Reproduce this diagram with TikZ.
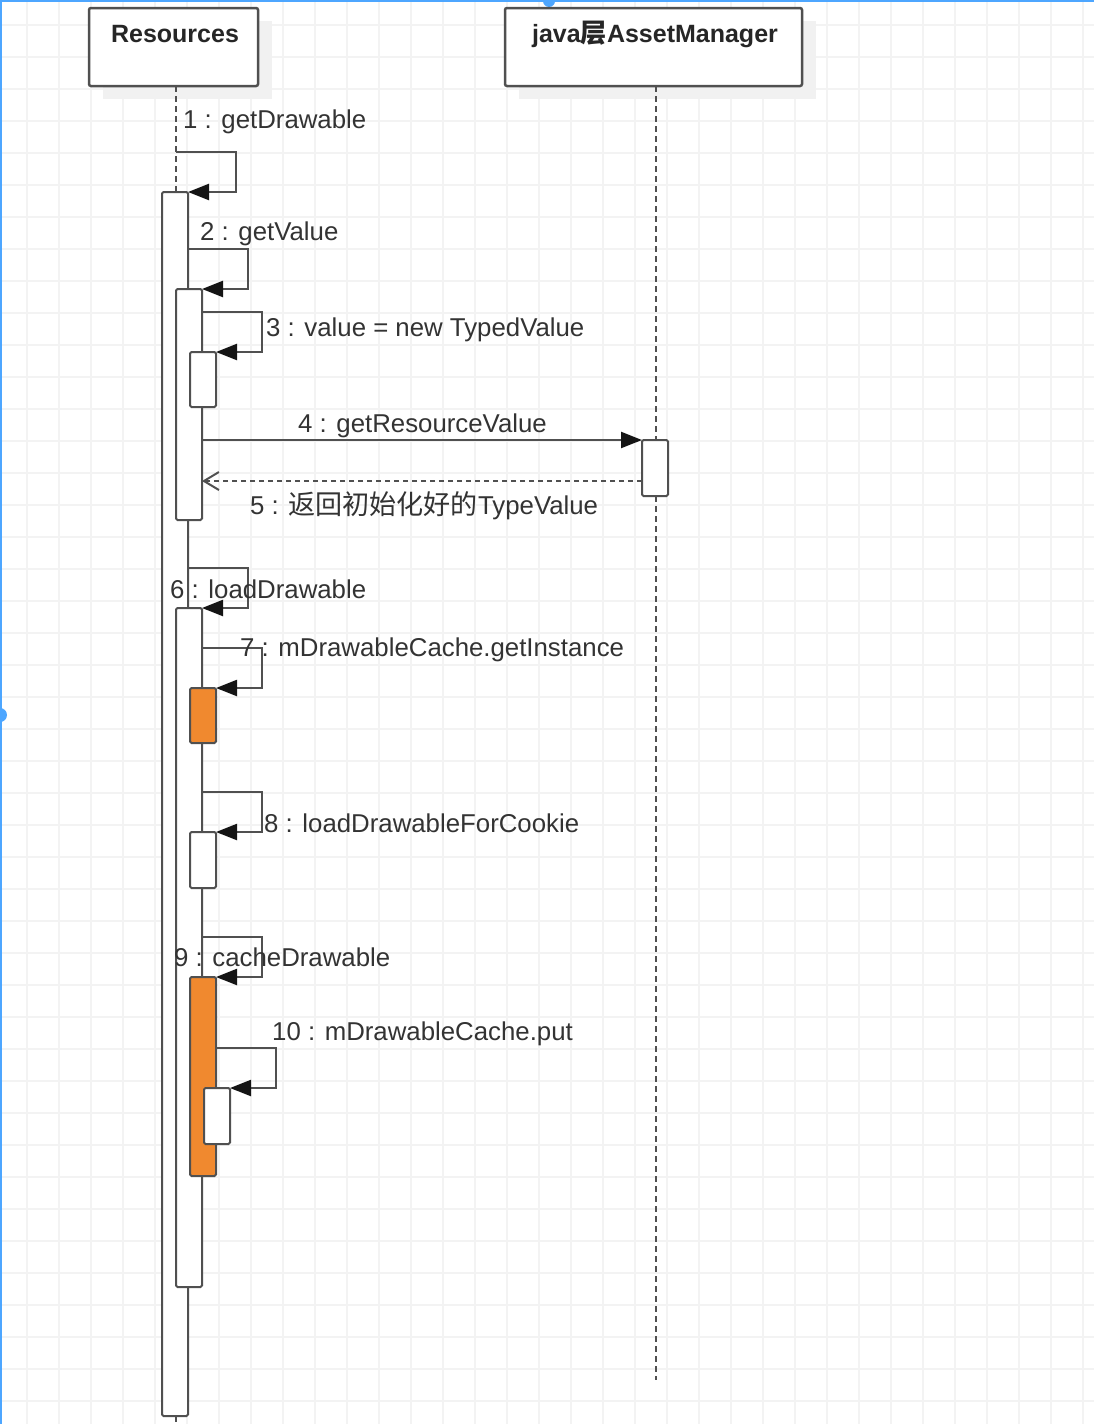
\documentclass[tikz,border=0pt]{standalone}
\usepackage{fontspec}
\setmainfont{Liberation Sans}
\newfontfamily\cjk[Scale=1.05]{Noto Sans CJK SC}
\usetikzlibrary{arrows.meta,calc}
\definecolor{ln}{HTML}{505050}
\definecolor{gridc}{HTML}{F3F3F3}
\definecolor{orng}{HTML}{F0892F}
\definecolor{selblue}{HTML}{4DA6FF}
\definecolor{txt}{HTML}{333333}
\definecolor{shad}{HTML}{F1F1F1}
\begin{document}
\begin{tikzpicture}[x=1pt,y=-1pt,
  font=\fontsize{25.8}{30}\selectfont,
  head/.style={draw=ln, line width=2.5pt, fill=white, rounded corners=2pt, minimum height=78pt, anchor=north west, inner sep=0pt, outer sep=0pt},
  act/.style={draw=ln, line width=2pt, fill=white, rounded corners=1.5pt, minimum width=26pt, anchor=north west, inner sep=0pt, outer sep=0pt},
  hot/.style={act, fill=orng},
  life/.style={draw=ln, line width=2pt, dash pattern=on 6pt off 4pt},
  msg/.style={draw=ln, line width=2.2pt, -{Triangle[length=21pt,width=16pt,color=black!92]}},
  ret/.style={draw=ln, line width=2pt, dash pattern=on 5pt off 4pt, -{Straight Barb[length=15pt,width=18pt]}},
  lbl/.style={text=txt, anchor=base west, inner sep=0pt},
  ttl/.style={text=black!85, anchor=base, inner sep=0pt, font=\fontsize{25}{30}\selectfont\bfseries},
]
\useasboundingbox (0,0) rectangle (1094,1424);
\fill[white] (0,0) rectangle (1094,1424);
% grid
\foreach \i in {0,...,33} \draw[gridc, line width=1.5pt] ({27+32*\i},0) -- ({27+32*\i},1424);
\foreach \j in {0,...,43} \draw[gridc, line width=1.5pt] (0,{25+32*\j}) -- (1094,{25+32*\j});
% selection frame
\draw[selblue, line width=2pt] (0,1) -- (1094,1);
\draw[selblue, line width=1.5pt] (1,0) -- (1,1424);
\fill[selblue] (549,1) circle (6);
\fill[selblue] (0,715) circle (7);

% headers with shadows
\fill[shad] (103,21) rectangle (272,99);
\fill[shad] (519,21) rectangle (816,99);
\node[head, minimum width=169pt] (res) at (89,8) {};
\node[head, minimum width=297pt] (amh) at (505,8) {};
\node[ttl] (rest) at (175,42) {Resources};
\node[ttl] (amt) at (655,42) {java{\cjk\bfseries 层}AssetManager};

% lifelines
\draw[life] (176,86) -- (176,192);
\draw[life] (176,1416) -- (176,1424);
\draw[life] (656,86) -- (656,440);
\draw[life] (656,496) -- (656,1380);

\node[act, minimum height=1224pt] (A1) at (162,192) {};
\node[act, minimum height=231pt] (A2) at (176,289) {};
\node[act, minimum height=55pt] (A3) at (190,352) {};
\node[act, minimum height=56pt] (AM) at (642,440) {};
\node[act, minimum height=679pt] (A6) at (176,608) {};
\node[hot, minimum height=55pt] (A7) at (190,688) {};
\node[act, minimum height=56pt] (A8) at (190,832) {};
\node[hot, minimum height=199pt] (A9) at (190,977) {};
\node[act, minimum height=56pt] (A10) at (204,1088) {};

% messages
\coordinate (m1s) at (176,152);
\draw[msg] (m1s) -- ++(60,0) |- (A1.north east);
\draw[msg] (A1.north east |- 0,249) -- ++(60,0) |- (A2.north east);
\draw[msg] (A2.north east |- 0,312) -- ++(60,0) |- (A3.north east);
\draw[msg] (A2.north east |- 0,440) -- (AM.north west);
\draw[ret] (AM.north west |- 0,481) -- (A2.north east |- 0,481);
\draw[msg] (A1.north east |- 0,568) -- ++(60,0) |- (A6.north east);
\draw[msg] (A6.north east |- 0,648) -- ++(60,0) |- (A7.north east);
\draw[msg] (A6.north east |- 0,792) -- ++(60,0) |- (A8.north east);
\draw[msg] (A6.north east |- 0,937) -- ++(60,0) |- (A9.north east);
\draw[msg] (A9.north east |- 0,1048) -- ++(60,0) |- (A10.north east);

% labels
\node[lbl] (l1) at (183,128) {1 : getDrawable};
\node[lbl] (l2) at (200,240) {2 : getValue};
\node[lbl] (l3) at (266,336) {3 : value = new TypedValue};
\node[lbl] (l4) at (298,432) {4 : getResourceValue};
\node[lbl] (l5) at (250,514) {5 : {\cjk 返回初始化好的}TypeValue};
\node[lbl] (l6) at (170,598) {6 : loadDrawable};
\node[lbl] (l7) at (240,656) {7 : mDrawableCache.getInstance};
\node[lbl] (l8) at (264,832) {8 : loadDrawableForCookie};
\node[lbl] (l9) at (174,966) {9 : cacheDrawable};
\node[lbl] (l10) at (272,1040) {10 : mDrawableCache.put};
\end{tikzpicture}
\end{document}
